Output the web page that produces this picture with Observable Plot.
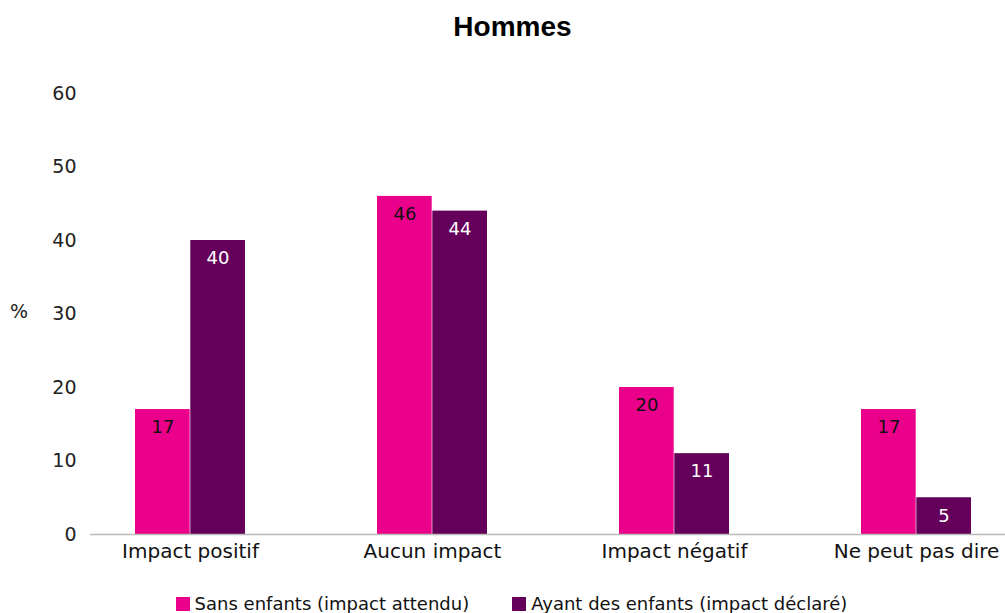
<!DOCTYPE html>
<html><head><meta charset="utf-8">
<script src="https://cdn.jsdelivr.net/npm/d3@7"></script>
<script src="https://cdn.jsdelivr.net/npm/@observablehq/plot@0.6"></script>
<style>
html,body{margin:0;padding:0;background:#fff;overflow:hidden;width:1005px;height:613px;}
#wrap{position:relative;width:1005px;height:613px;overflow:hidden;}
#chart{position:absolute;left:0;top:0;width:1015px;}
#title{position:absolute;left:0;top:0;width:1005px;height:54px;line-height:54px;text-align:center;font-family:"Liberation Sans",Arial,sans-serif;font-weight:bold;font-size:28px;color:#000;padding-left:20px;box-sizing:border-box;z-index:2;}
#pct{position:absolute;left:10px;top:300px;font-family:"DejaVu Sans",sans-serif;font-size:19px;color:#222;}
#legend{position:absolute;top:593px;left:0;width:1005px;display:flex;justify-content:center;gap:43px;padding-left:18px;box-sizing:border-box;font-family:"DejaVu Sans",sans-serif;font-size:18px;line-height:22px;color:#111;}
#legend span.it{display:flex;align-items:center;gap:5px;}
#legend i{display:inline-block;width:14px;height:14px;}
#chart svg{display:block;overflow:visible;max-width:none !important;}
</style></head>
<body><div id="wrap">
<div id="chart"></div>
<div id="title">Hommes</div>
<div id="pct">%</div>
<div id="legend"></div>
</div>
<script>
const categories = ["Impact positif", "Aucun impact", "Impact négatif", "Ne peut pas dire"];
const series = ["Sans enfants (impact attendu)", "Ayant des enfants (impact déclaré)"];
const sansEnfants = [17, 46, 20, 17];
const avecEnfants = [40, 44, 11, 5];
const yTicks = [0, 10, 20, 30, 40, 50, 60];
const colors = ["#EA008B", "#65005A"];

const d0 = categories.map((c, i) => ({category: c, value: sansEnfants[i]}));
const d1 = categories.map((c, i) => ({category: c, value: avecEnfants[i]}));

const numFont = "'DejaVu Sans', sans-serif";
const plot = Plot.plot({
  width: 1015,
  height: 580,
  marginLeft: 90,
  marginRight: 0,
  marginTop: 93,
  marginBottom: 46,
  style: {background: "transparent", color: "#222", maxWidth: "none"},
  x: {domain: categories, paddingInner: 0.547, paddingOuter: 0.177, align: 0.5, label: null},
  y: {domain: [0, 60], label: null},
  marks: [
    Plot.barY(d0, {x: "category", y: "value", fill: colors[0], insetRight: 55.3, insetLeft: 0}),
    Plot.barY(d1, {x: "category", y: "value", fill: colors[1], insetLeft: 55.3, insetRight: 0}),
    Plot.text(d0, {x: "category", y: "value", text: d => String(d.value), dx: -27.5, dy: 18, fill: "#111", fontSize: 18, fontFamily: numFont}),
    Plot.text(d1, {x: "category", y: "value", text: d => String(d.value), dx: 27.5, dy: 18, fill: "#fff", fontSize: 18, fontFamily: numFont}),
    Plot.ruleY([0], {stroke: "#bbbbbb", strokeWidth: 1.5}),
    Plot.axisY({ticks: yTicks, tickSize: 0, tickPadding: 14, fontSize: 19, fontFamily: numFont, label: null, fill: "#222"}),
    Plot.axisX({tickSize: 0, tickPadding: 9, fontSize: 20, fontFamily: numFont, label: null, fill: "#111"})
  ]
});
document.getElementById("chart").appendChild(plot);

const leg = document.getElementById("legend");
series.forEach((s, i) => {
  const it = document.createElement("span");
  it.className = "it";
  const sw = document.createElement("i");
  sw.style.background = colors[i];
  it.appendChild(sw);
  it.appendChild(document.createTextNode(s));
  leg.appendChild(it);
});
</script>
</body></html>
